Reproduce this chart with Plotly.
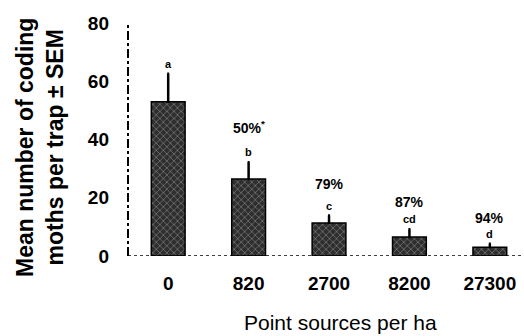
import plotly.graph_objects as go

categories = ["0", "820", "2700", "8200", "27300"]
means = [53, 26.4, 11.3, 6.5, 3.0]
sem = [9.6, 5.8, 2.6, 2.7, 1.2]
letters = ["a", "b", "c", "cd", "d"]
reductions = ["", "50%<sup>*</sup>", "79%", "87%", "94%"]
y_ticks = [0, 20, 40, 60, 80]

FONT = "Liberation Sans, Arial, sans-serif"

fig = go.Figure()
fig.add_trace(go.Bar(
    x=list(range(len(categories))), y=means, width=0.42,
    marker=dict(color="#2e2e2e", line=dict(color="black", width=1.5),
                pattern=dict(shape="x", fgcolor="#cfcfcf", bgcolor="#2e2e2e",
                             size=5, solidity=0.25)),
    error_y=dict(type="data", symmetric=False, array=sem,
                 arrayminus=[0]*len(sem), color="black", thickness=2.5, width=1),
    showlegend=False,
))

pct_shift = [0, 22, 20, 15, 14]
for i, (m, s, lt, pct, sh) in enumerate(zip(means, sem, letters, reductions, pct_shift)):
    fig.add_annotation(x=i, y=m + s, text=f"<b>{lt}</b>", showarrow=False,
                       yanchor="bottom", yshift=2,
                       font=dict(family=FONT, size=11, color="black"))
    if pct:
        fig.add_annotation(x=i, y=m + s, text=f"<b>{pct}</b>", showarrow=False,
                           yanchor="bottom", yshift=2 + sh,
                           font=dict(family=FONT, size=14, color="black"))

# axis titles
fig.add_annotation(xref="paper", yref="paper", x=0.54, y=-0.285,
                   text="Point sources per ha", showarrow=False,
                   xanchor="center", yanchor="middle",
                   font=dict(family=FONT, size=21, color="black"))
fig.add_annotation(xref="paper", yref="paper", x=-0.225, y=0.465,
                   text="Mean number of coding<br>moths per trap ± SEM",
                   showarrow=False, textangle=-90,
                   xanchor="center", yanchor="middle",
                   font=dict(family=FONT, size=23, color="black", weight="bold"))

# axis lines (dashed, as in the scanned original)
fig.add_shape(type="line", xref="paper", yref="paper", x0=0, x1=0, y0=0, y1=1,
              line=dict(color="black", width=2, dash="dashdot"))
fig.add_shape(type="line", xref="paper", yref="y", x0=0, x1=1, y0=0, y1=0,
              line=dict(color="black", width=1.5, dash="dot"))

fig.update_layout(
    width=524, height=336,
    margin=dict(l=128, r=2, t=23, b=80),
    plot_bgcolor="white", paper_bgcolor="white",
    font=dict(family=FONT, color="black"),
)
fig.update_xaxes(
    range=[-0.5, 4.4], showline=False, showgrid=False, zeroline=False,
    tickvals=list(range(len(categories))), ticktext=categories,
    ticks="", ticklabelstandoff=14, automargin=False,
    tickfont=dict(family=FONT, size=19, weight="bold"),
)
fig.update_yaxes(
    range=[0, 80], tickvals=y_ticks, showline=False, showgrid=False,
    zeroline=False, ticks="", ticklabelstandoff=18, automargin=False,
    tickfont=dict(family=FONT, size=19, weight="bold"),
)

fig.write_html("out.html", config={"displayModeBar": False},
               post_script="document.body.style.margin='0';")
